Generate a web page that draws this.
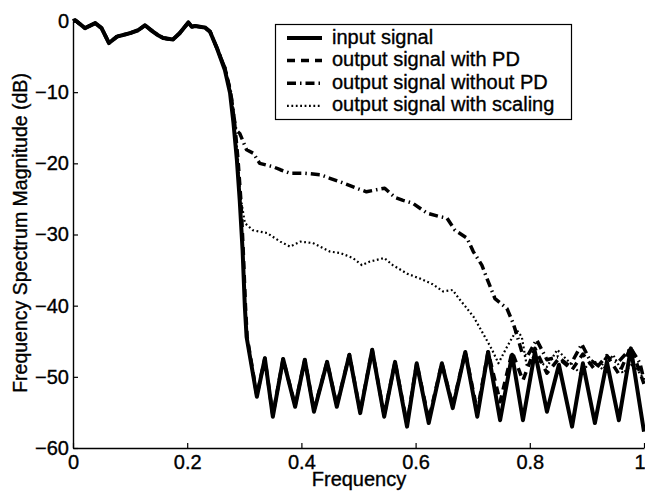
<!DOCTYPE html>
<html>
<head>
<meta charset="utf-8">
<script src="https://cdn.jsdelivr.net/npm/d3@7"></script>
<style>
  body { margin: 0; background: #fff; }
  svg text { font-family: "Liberation Sans", Arial, Helvetica, sans-serif; fill: #000; stroke: #000; stroke-width: 0.35px; }
</style>
</head>
<body>
<div id="root"></div>
<script>
// Size of the chart
const width = 645;
const height = 498;
const margin = { top: 21, right: 1, bottom: 50, left: 73 };

// Tick values and labels
const xTicks = [0, 0.2, 0.4, 0.6, 0.8, 1];
const xTickLabels = ["0", "0.2", "0.4", "0.6", "0.8", "1"];
const yTicks = [0, -10, -20, -30, -40, -50, -60];
const yTickLabels = ["0", "\u221210", "\u221220", "\u221230", "\u221240", "\u221250", "\u221260"];

// Series names (legend order)
const seriesNames = [
  "input signal",
  "output signal with PD",
  "output signal without PD",
  "output signal with scaling"
];

// Passband, common to all four signals  [frequency, dB]
const passband = [
  [0.000, 0.0], [0.004, 0.1], [0.021, -1.0], [0.039, -0.3], [0.050, -1.0],
  [0.063, -3.1], [0.077, -2.2], [0.091, -1.9], [0.100, -1.7], [0.114, -1.3],
  [0.126, -0.6], [0.140, -1.5], [0.149, -2.0], [0.158, -2.4], [0.175, -2.6],
  [0.187, -1.7], [0.202, -0.2], [0.208, -0.8], [0.214, -0.7], [0.222, -0.8],
  [0.231, -0.9], [0.240, -1.5], [0.252, -3.8]
];

// input signal, after the passband
const inputTail = [
  [0.266, -6.9], [0.275, -10.1], [0.281, -14.3], [0.287, -19.5], [0.292, -25.2],
  [0.297, -32.2], [0.301, -40.2], [0.304, -44.4], [0.322, -52.8], [0.336, -47.4],
  [0.350, -55.6], [0.368, -47.5], [0.389, -54.2], [0.406, -47.6], [0.422, -54.9],
  [0.445, -47.9], [0.462, -54.2], [0.484, -46.9], [0.503, -55.1], [0.524, -46.2],
  [0.545, -55.6], [0.564, -47.9], [0.585, -57.0], [0.602, -48.1], [0.623, -56.5],
  [0.646, -48.1], [0.665, -54.4], [0.687, -46.5], [0.708, -55.6], [0.727, -46.5],
  [0.748, -56.1], [0.769, -46.9], [0.788, -56.1], [0.809, -46.5], [0.830, -54.9],
  [0.851, -48.3], [0.874, -57.0], [0.893, -48.1], [0.914, -56.5], [0.935, -47.9],
  [0.956, -56.1], [0.977, -46.0], [1.000, -57.7]
];

// output signal with PD
const withPDTail = [
  [0.266, -6.6], [0.276, -10.0], [0.283, -14.3], [0.289, -19.5], [0.294, -25.2],
  [0.298, -32.0], [0.302, -40.0], [0.305, -44.4], [0.322, -52.6], [0.336, -47.4],
  [0.350, -55.4], [0.368, -47.5], [0.389, -54.0], [0.406, -47.6], [0.422, -54.7],
  [0.445, -47.9], [0.462, -54.0], [0.484, -46.9], [0.503, -54.9], [0.524, -46.2],
  [0.545, -55.4], [0.564, -47.9], [0.585, -56.6], [0.602, -48.1], [0.623, -56.0],
  [0.646, -48.1], [0.665, -54.0], [0.687, -46.5], [0.708, -54.8], [0.727, -46.5],
  [0.748, -53.5], [0.769, -46.5], [0.788, -50.5], [0.809, -46.0], [0.830, -49.5],
  [0.851, -47.4], [0.874, -49.0], [0.893, -46.8], [0.914, -49.0], [0.935, -47.0],
  [0.956, -49.6], [0.977, -45.8], [1.000, -51.0]
];

// output signal without PD
const withoutPDTail = [
  [0.266, -6.6], [0.276, -10.0], [0.282, -13.5], [0.285, -15.3], [0.292, -15.8],
  [0.304, -18.1], [0.316, -18.6], [0.327, -20.0], [0.351, -20.5], [0.363, -20.9],
  [0.380, -21.4], [0.406, -21.4], [0.433, -21.6], [0.450, -22.1], [0.468, -22.6],
  [0.497, -23.5], [0.514, -24.0], [0.532, -23.7], [0.546, -23.5], [0.564, -24.8],
  [0.578, -25.2], [0.595, -25.6], [0.620, -27.0], [0.643, -27.5], [0.655, -27.7],
  [0.669, -29.4], [0.690, -30.5], [0.701, -32.4], [0.716, -34.3], [0.727, -36.6],
  [0.739, -39.0], [0.760, -40.4], [0.771, -42.5], [0.780, -44.8], [0.786, -46.5],
  [0.795, -47.2], [0.812, -44.8], [0.830, -47.6], [0.849, -47.2], [0.870, -48.5],
  [0.891, -45.4], [0.905, -47.6], [0.923, -48.6], [0.935, -47.2], [0.954, -48.0],
  [0.977, -46.0], [0.993, -48.1], [1.000, -50.5]
];

// output signal with scaling
const scalingTail = [
  [0.266, -6.6], [0.276, -10.0], [0.283, -14.3], [0.289, -19.5], [0.293, -24.5],
  [0.301, -28.4], [0.315, -29.4], [0.340, -29.8], [0.363, -31.0], [0.380, -31.7],
  [0.398, -31.0], [0.420, -31.2], [0.450, -32.4], [0.468, -32.6], [0.490, -33.3],
  [0.506, -34.3], [0.520, -33.8], [0.545, -33.3], [0.560, -34.3], [0.585, -35.5],
  [0.608, -36.2], [0.630, -37.0], [0.648, -38.0], [0.665, -37.8], [0.676, -39.0],
  [0.701, -41.5], [0.718, -43.9], [0.734, -46.2], [0.745, -48.1], [0.760, -45.8],
  [0.777, -43.4], [0.786, -44.4], [0.795, -48.6], [0.806, -47.2], [0.830, -48.6],
  [0.848, -46.2], [0.865, -47.6], [0.888, -49.5], [0.911, -47.6], [0.928, -49.0],
  [0.946, -46.9], [0.963, -49.5], [0.981, -48.1], [1.000, -50.4]
];

// Line styles per series
const styles = [
  { width: 4, dash: null },
  { width: 3.5, dash: "8,6" },
  { width: 3.5, dash: "9,4,1.5,4" },
  { width: 2.2, dash: "1.8,2.6" }
];

const series = [
  passband.concat(inputTail),
  passband.concat(withPDTail),
  passband.concat(withoutPDTail),
  passband.concat(scalingTail)
];

// Creating svg
const svg = d3
  .select("#root")
  .append("svg")
  .attr("width", width)
  .attr("height", height);

// Scales
const xScale = d3
  .scaleLinear()
  .domain([0, 1])
  .range([margin.left, width - margin.right]);

const yScale = d3
  .scaleLinear()
  .domain([-60, 0])
  .range([height - margin.bottom, margin.top]);

// Axes, ticks pointing inwards
const xAxis = d3
  .axisBottom(xScale)
  .tickValues(xTicks)
  .tickFormat((d, i) => xTickLabels[i])
  .tickSizeInner(-5)
  .tickSizeOuter(0)
  .tickPadding(7);

const yAxis = d3
  .axisLeft(yScale)
  .tickValues(yTicks)
  .tickFormat((d, i) => yTickLabels[i])
  .tickSizeInner(-5)
  .tickSizeOuter(0)
  .tickPadding(4);

const gx = svg
  .append("g")
  .attr("class", "x-axis")
  .attr("transform", "translate(0," + (height - margin.bottom) + ")")
  .call(xAxis);

const gy = svg
  .append("g")
  .attr("class", "y-axis")
  .attr("transform", "translate(" + margin.left + ",0)")
  .call(yAxis);

[gx, gy].forEach(g => {
  g.select(".domain").attr("stroke", "#000").attr("stroke-width", 1.4);
  g.selectAll(".tick line").attr("stroke", "#000").attr("stroke-width", 1.2);
  g.selectAll(".tick text")
    .attr("font-size", 20)
    .attr("font-family", "Liberation Sans, Arial, sans-serif")
    .attr("fill", "#000");
});

// keep the last x label inside the window
gx.selectAll(".tick text")
  .filter(d => d === 1)
  .attr("text-anchor", "end")
  .attr("dx", 1);

// Axis titles
svg
  .append("text")
  .attr("x", 359)
  .attr("y", 486)
  .attr("text-anchor", "middle")
  .attr("font-size", 20)
  .text("Frequency");

svg
  .append("text")
  .attr("transform", "translate(27,233) rotate(-90)")
  .attr("text-anchor", "middle")
  .attr("font-size", 19.5)
  .text("Frequency Spectrum Magnitude (dB)");

// Lines
const line = d3
  .line()
  .x(d => xScale(d[0]))
  .y(d => yScale(d[1]));

series.forEach((data, i) => {
  svg
    .append("path")
    .datum(data)
    .attr("fill", "none")
    .attr("stroke", "#000")
    .attr("stroke-width", styles[i].width)
    .attr("stroke-linejoin", "round")
    .attr("stroke-dasharray", styles[i].dash)
    .attr("d", line);
});

// Legend
const legend = svg.append("g").attr("class", "legend");

legend
  .append("rect")
  .attr("x", 275.5)
  .attr("y", 24.5)
  .attr("width", 296)
  .attr("height", 95)
  .attr("fill", "#fff")
  .attr("stroke", "#000")
  .attr("stroke-width", 1.2);

seriesNames.forEach((name, i) => {
  const y = 38 + i * 22.6;
  legend
    .append("line")
    .attr("x1", 287)
    .attr("x2", 322)
    .attr("y1", y)
    .attr("y2", y)
    .attr("stroke", "#000")
    .attr("stroke-width", styles[i].width)
    .attr("stroke-dasharray", styles[i].dash);
  legend
    .append("text")
    .attr("x", 332)
    .attr("y", y + 5.5)
    .attr("font-size", 20)
    .text(name);
});
</script>
</body>
</html>
